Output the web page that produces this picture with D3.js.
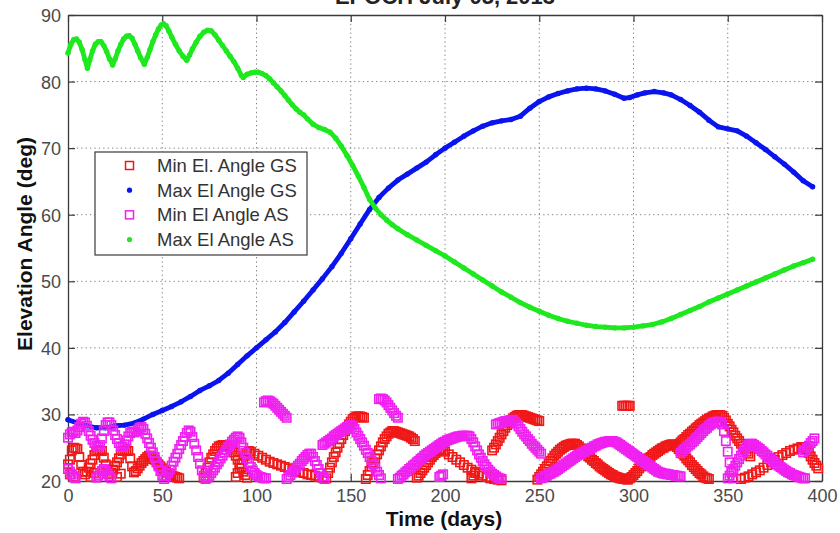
<!DOCTYPE html>
<html>
<head>
<meta charset="utf-8">
<script src="https://cdn.jsdelivr.net/npm/d3@7"></script>
<style>
  body { margin: 0; background: #fff; }
  svg { display: block; }
</style>
</head>
<body>
<svg id="chart" width="840" height="533"></svg>
<script>
// ---- chart text ----
const titleText = "EPOCH July 05, 2013";
const xLabel = "Time (days)";
const yLabel = "Elevation Angle (deg)";
const xTicks = [0, 50, 100, 150, 200, 250, 300, 350, 400];
const yTicks = [20, 30, 40, 50, 60, 70, 80, 90];
const legendNames = ["Min El. Angle GS", "Max El Angle GS", "Min El Angle AS", "Max El Angle AS"];

// ---- series: [day, elevation deg] ----
const maxGS = [
  [0,29.2],[5,28.7],[10,28.3],[15,28.0],[20,28.0],[25,28.3],[30,28.4],[35,28.7],[40,29.3],[45,30.0],
  [50,30.6],[55,31.2],[60,31.9],[65,32.7],[70,33.6],[75,34.3],[80,35.1],[85,36.2],[90,37.5],[95,38.8],
  [100,40.0],[105,41.2],[110,42.4],[115,43.8],[120,45.4],[125,47.0],[130,48.7],[135,50.4],[140,52.2],
  [145,54.2],[150,56.4],[155,58.6],[160,60.8],[165,62.6],[170,64.0],[175,65.2],[180,66.1],[185,67.0],
  [190,67.9],[195,69.0],[200,70.0],[205,70.9],[210,71.8],[215,72.6],[220,73.3],[225,73.8],[230,74.1],
  [235,74.3],[240,74.8],[245,76.0],[250,77.0],[255,77.7],[260,78.2],[265,78.6],[270,78.9],[275,79.0],
  [280,78.9],[285,78.6],[290,78.1],[295,77.5],[298,77.6],[302,78.0],[306,78.3],[311,78.5],[316,78.3],
  [320,78.0],[325,77.3],[330,76.4],[335,75.4],[340,74.2],[345,73.2],[350,72.9],[355,72.6],[360,71.8],
  [365,70.8],[370,69.8],[375,68.7],[380,67.6],[385,66.4],[390,65.1],[395,64.2]
];

const maxAS = [
  [0,84.3],[1.5,85.6],[3,86.3],[4.5,86.4],[6,85.9],[7.5,84.8],[9,83.3],[10.3,82.0],[11.5,83.2],[13,84.6],
  [14.5,85.6],[16,86.0],[17.5,86.0],[19,85.4],[20.5,84.5],[22,83.4],[23.7,82.5],[25,83.4],[26.5,84.6],
  [28,85.6],[29.5,86.4],[31,86.8],[32.5,86.9],[34,86.5],[35.5,85.6],[37,84.6],[38.5,83.6],[40.5,82.6],
  [42,83.6],[43.5,84.8],[45,86.0],[46.5,87.0],[48,87.9],[49.5,88.5],[50.6,88.7],[52,88.4],[53.5,87.6],
  [55,86.7],[57,85.6],[59,84.6],[61,83.8],[63,83.2],[64.5,84.0],[66,84.9],[68,85.9],[70,86.8],[72,87.4],
  [74,87.7],[76,87.6],[78,87.0],[80,86.2],[82,85.4],[84,84.6],[86,83.8],[88,83.0],[90,82.0],[92,80.9],
  [93,80.6],[95,81.1],[97,81.3],[99,81.4],[101,81.4],[103,81.2],[105,80.9],[107,80.4],[109,79.8],
  [111,79.2],[113,78.6],[115,77.9],[117,77.2],[119,76.5],[121,75.9],[123,75.4],[125,75.0],[127,74.4],
  [130,73.6],[133,73.1],[136,72.8],[139,72.4],[142,71.5],[145,70.3],[148,68.9],[151,67.4],[154,65.8],
  [157,64.1],[160,62.3],[163,61.0],[166,60.0],[169,59.2],[172,58.5],[175,57.9],[180,57.0],[185,56.2],
  [190,55.4],[195,54.6],[200,53.8],[205,52.9],[210,52.0],[215,51.1],[220,50.2],[225,49.3],[230,48.4],
  [235,47.6],[240,46.8],[245,46.1],[250,45.5],[255,44.9],[260,44.4],[265,44.0],[270,43.7],[275,43.4],
  [280,43.2],[285,43.1],[290,43.0],[295,43.0],[300,43.1],[305,43.3],[310,43.5],[315,43.9],[320,44.4],
  [325,45.0],[330,45.6],[335,46.2],[340,46.9],[345,47.5],[350,48.1],[355,48.7],[360,49.3],[365,49.9],
  [370,50.5],[375,51.1],[380,51.7],[385,52.3],[390,52.8],[395,53.3]
];

const minGS = [
  [0,22.5],[1,23.2],[2,24.6],[3,25],[4,24.9],[5,24.8],[6,23.6],[7,22.4],[8,21.4],[9,21],[10,21.4],[11,22],
  [12,22.6],[13,23.2],[14,23.9],[15,24.5],[16,24.6],[17,24.6],[18,24.5],[19,23.5],[20,22.5],[21,21.6],
  [22,21],[23,21.2],[24,21.7],[25,22.3],[26,22.8],[27,23.4],[28,24],[29,24.5],[30,24.6],[31,24.6],
  [32,24.5],[33,23.4],[34,22.2],[35,21.3],
  [1,21],[3,20.7],[12,20.6],[14,21.2],[26,20.6],[28,21.1],
  [36,21.5],[37,21.9],[38,22.3],[39,22.7],[40,23],[41,23.3],[42,23.6],[43,23.8],[44,23.8],[45,23.6],
  [46,23.2],[47,22.8],[48,22.5],[49,22.2],[50,21.9],[51,21.6],[52,21.4],[53,21.2],[54,21],[55,20.8],
  [56,20.7],[57,20.6],[58,20.5],[59,20.4],
  [72,20.5],[73,21.2],[74,22],[75,22.8],[76,23.5],[77,24],[78,24.5],[79,24.9],[80,25.2],[81,25.3],
  [82,25.4],[83,25.4],[84,25.3],[85,25.2],[86,25],[87,24.7],[88,24.3],[89,23.8],[90,23.2],[91,22.6],
  [92,22],[93,21.4],[94,20.9],[95,20.5],
  [89,20.6],[90,21.2],[91,21.9],[92,22.6],[93,23.2],[94,23.8],[95,24.2],[96,24.5],[97,24.4],[99,24.1],
  [101,23.8],[103,23.5],[105,23.2],[107,22.9],[109,22.7],[111,22.5],[113,22.3],[115,22.1],[117,21.9],
  [119,21.7],[121,21.5],[123,21.3],[125,21.2],[127,21],[129,20.9],[131,20.8],[133,20.6],[135,20.5],
  [137,20.4],
  [138,21.2],[139,22],[140,22.8],[141,23.6],[142,24.3],[143,25],[144,25.7],[145,26.3],[146,26.9],
  [147,27.5],[148,28],[149,28.5],[150,28.9],[151,29.3],[152,29.5],[153,29.7],[154,29.7],[155,29.7],
  [156,29.6],[157,29.5],
  [158,20.3],[159,20.9],[160,21.5],[161,22.2],[162,22.8],[163,23.4],[164,24],[165,24.6],[166,25.2],
  [167,25.8],[168,26.3],[169,26.7],[170,27.1],[171,27.3],[172,27.5],[173,27.5],[174,27.4],[175,27.3],
  [176,27.2],[177,27.1],[178,27],[179,26.9],[180,26.8],[181,26.7],[182,26.5],[183,26.3],[184,26],
  [185,20.5],[186,20.8],[187,21.2],[188,21.6],[189,22],[190,22.4],[191,22.8],[192,23.2],[193,23.6],
  [194,23.9],[195,24.2],[196,24.5],[197,24.7],[198,24.8],[199,24.6],[200,24.4],[202,24],[204,23.6],
  [206,23.2],[208,22.8],[210,22.4],[212,22],[214,21.7],[216,21.4],[218,21.1],[220,20.8],[222,20.6],
  [224,20.4],[226,20.3],[228,20.2],[230,20.1],
  [214,20.4],[215,20.8],[216,21.2],
  [225,24.6],[226,25],[227,25.5],[228,26],[229,26.5],[230,27],[231,27.5],[232,28],[233,28.4],[234,28.8],
  [235,29.1],[236,29.4],[237,29.6],[238,29.8],[239,29.9],[240,29.9],[241,29.9],[242,29.8],[243,29.7],
  [244,29.6],[245,29.5],[246,29.4],[247,29.3],[248,29.2],[249,29.1],[250,29],
  [249,20.2],[250,20.6],[251,21],[252,21.4],[253,21.8],[254,22.2],[255,22.6],[256,23],[257,23.4],
  [258,23.8],[259,24.1],[260,24.4],[261,24.7],[262,24.9],[263,25.1],[264,25.3],[265,25.4],[266,25.5],
  [267,25.6],[268,25.6],[269,25.6],[270,25.4],[271,25.2],[272,24.9],[273,24.6],[274,24.3],[275,24],
  [276,23.7],[277,23.5],[278,23.2],[279,23],[280,22.7],[281,22.5],[282,22.2],[283,22],[284,21.8],
  [285,21.6],[286,21.4],[287,21.2],[288,21],[289,20.9],[290,20.7],[291,20.6],[292,20.5],[293,20.4],
  [294,20.35],[295,20.3],[296,20.25],[297,20.2],
  [294,31.3],[295,31.3],[296,31.3],[297,31.3],[298,31.3],
  [298,20.4],[299,20.6],[300,20.9],[301,21.2],[302,21.5],[303,21.9],[304,22.2],[305,22.5],[306,22.8],
  [307,23.1],[308,23.4],[309,23.6],[310,23.9],[311,24.1],[312,24.3],[313,24.5],[314,24.7],[315,24.9],
  [316,25],[317,25.2],[318,25.3],[319,25.4],[320,25.5],[321,25.5],[322,25.4],[323,25.1],[324,24.8],
  [325,24.5],[326,24.1],[327,23.8],[328,23.4],[329,23.1],[330,22.8],[331,22.4],[332,22.1],[333,21.8],
  [334,21.5],[335,21.2],[336,21],[337,20.7],[338,20.5],[339,20.4],[340,20.3],
  [324,25.5],[325,25.8],[326,26.1],[327,26.3],[328,26.6],[329,26.9],[330,27.1],[331,27.4],[332,27.6],
  [333,27.9],[334,28.1],[335,28.4],[336,28.6],[337,28.8],[338,29],[339,29.2],[340,29.4],[341,29.5],
  [342,29.7],[343,29.8],[344,29.9],[345,29.9],[346,29.9],[347,29.8],[348,29.5],[349,29.1],[350,28.6],
  [351,28.2],[352,27.7],[353,27.3],[354,26.8],[355,26.4],[356,26],[357,25.6],[358,25.2],[359,24.8],
  [360,24.4],[361,24.1],[362,23.7],
  [357,20.3],[359,20.5],[361,20.7],[363,21],[365,21.3],[367,21.6],[369,22],[371,22.4],[373,22.8],
  [375,23.2],[377,23.6],[379,23.9],[381,24.2],[383,24.5],[385,24.7],[387,24.9],[389,25.1],[390,25.1],
  [391,25],[392,24.7],[393,24.2],[394,23.7],[395,23.2],[396,22.7],[397,22.3],[398,21.9]
];

const minAS = [
  [0,26.5],[1,27],[2,27.3],[3,27.4],[4,27.2],[5,27.6],[6,28.1],[7,28.6],[8,28.9],[9,28.8],[10,28.3],
  [11,27.5],[12,26.8],[13,26.2],[14,25.7],[15,25.3],[16,25.1],[17,25.4],[18,26.4],[19,27.5],[20,28.4],
  [21,28.8],[22,28.8],[23,28.4],[24,27.6],[25,26.9],[26,26.3],[27,25.7],[28,25.2],[29,25.1],[30,25.5],
  [31,26.1],[32,26.7],[33,27.2],[34,27.4],[35,27.3],[36,27.4],[37,27.7],[38,28],[39,28.1],[40,27.8],
  [41,27.1],[42,26.4],[43,25.7],[44,25],[45,24.3],[46,23.6],[47,22.9],[48,22.2],[49,21.5],[50,20.8],
  [51,20.3],
  [0,21.8],[1,21.4],[2,21],[3,20.6],[4,20.4],[15,20.5],[16,20.8],[17,21.1],[18,21.5],[19,21.8],
  [20,21.5],[21,21.1],[22,20.7],[23,20.4],
  [52,20.7],[53,21.2],[54,21.7],[55,22.3],[56,22.9],[57,23.5],[58,24.1],[59,24.8],[60,25.4],[61,26],
  [62,26.6],[63,27.2],[64,27.6],[65,27.4],[66,26.6],[67,25.6],[68,24.6],[69,23.6],[70,22.6],[71,21.6],
  [72,20.8],[73,20.3],
  [74,20.5],[75,20.8],[76,21.2],[77,21.6],[78,22],[79,22.5],[80,22.9],[81,23.4],[82,23.8],[83,24.3],
  [84,24.7],[85,25.1],[86,25.5],[87,25.9],[88,26.2],[89,26.5],[90,26.7],[91,26.5],[92,25.8],[93,25],
  [94,24.2],[95,23.4],[96,22.7],[97,22.1],[98,21.6],[99,21.2],[100,20.9],[101,20.7],[102,20.6],
  [103,20.5],[104,20.4],[105,20.4],
  [104,31.8],[105,32],[106,32.1],[107,32],[108,31.8],[109,31.6],[110,31.3],[111,31],[112,30.7],
  [113,30.4],[114,30.1],[115,29.8],[116,29.5],
  [116,20.3],[117,20.6],[118,20.9],[119,21.3],[120,21.6],[121,22],[122,22.3],[123,22.6],[124,23],
  [125,23.3],[126,23.6],[127,23.9],[128,24.1],[129,24.1],[130,23.6],[131,23],[132,22.4],[133,21.8],
  [134,21.2],[135,20.7],[136,20.3],
  [135,25.4],[136,25.6],[137,25.8],[138,26],[139,26.2],[140,26.4],[141,26.7],[142,26.9],[143,27.1],
  [144,27.3],[145,27.5],[146,27.7],[147,27.9],[148,28.1],[149,28.2],[150,28.4],[151,28.3],[152,27.8],
  [153,27.3],[154,26.8],[155,26.3],[156,25.8],[157,25.3],[158,24.7],[159,24.2],[160,23.6],[161,23.1],
  [162,22.5],[163,22],[164,21.4],[165,20.9],[166,20.4],
  [165,32.3],[166,32.4],[167,32.3],[168,32.1],[169,31.8],[170,31.4],[171,31],[172,30.6],[173,30.2],
  [174,29.8],[175,29.5],
  [175,20.3],[176,20.5],[177,20.8],[178,21],[179,21.3],[180,21.5],[181,21.8],[182,22],[183,22.3],
  [184,22.5],[185,22.8],[186,23],[187,23.3],[188,23.5],[189,23.8],[190,24],[191,24.2],[192,24.4],
  [193,24.6],[194,24.8],[195,25],[196,25.2],[197,25.4],[198,25.6],[199,25.8],[200,25.9],[201,26.1],
  [202,26.2],[203,26.3],[204,26.4],[205,26.5],[206,26.6],[207,26.7],[208,26.7],[209,26.8],[210,26.8],
  [211,26.8],[212,26.8],[213,26.7],[214,26.3],[215,25.8],[216,25.2],[217,24.6],[218,24],[219,23.5],
  [220,23],[221,22.5],[222,22.1],[223,21.7],[224,21.4],[225,21.1],[226,20.9],[227,20.7],[228,20.5],
  [229,20.4],[230,20.3],
  [197,20.6],[198,20.8],[199,21],
  [227,28.5],[228,28.6],[229,28.7],[230,28.8],[231,28.9],[232,29],[233,29],[234,29.1],[235,29.1],
  [236,29.2],[237,28.9],[238,28.6],[239,28.2],[240,27.8],[241,27.4],[242,27],[243,26.7],[244,26.3],
  [245,26],[246,25.6],[247,25.3],[248,25],[249,24.7],[250,24.4],[251,24.1],
  [251,20.4],[252,20.5],[253,20.7],[254,20.8],[255,21],[256,21.1],[257,21.3],[258,21.4],[259,21.6],
  [260,21.8],[261,22],[262,22.2],[263,22.4],[264,22.6],[265,22.8],[266,23],[267,23.2],[268,23.4],
  [269,23.6],[270,23.8],[271,24],[272,24.1],[273,24.3],[274,24.4],[275,24.6],[276,24.7],[277,24.9],
  [278,25],[279,25.2],[280,25.3],[281,25.5],[282,25.6],[283,25.7],[284,25.8],[285,25.9],[286,25.9],
  [287,26],[288,26],[289,26],[290,25.9],[291,25.8],[292,25.6],[293,25.4],[294,25.2],[295,25],
  [296,24.8],[297,24.6],[298,24.4],[299,24.2],[300,24],[301,23.8],[302,23.6],[303,23.4],[304,23.2],
  [305,23],[306,22.8],[307,22.6],[308,22.4],[309,22.2],[310,22],[311,21.8],[312,21.6],[313,21.4],
  [314,21.3],[315,21.2],[316,21.1],[317,21.1],[318,21],[319,21],[320,20.9],[321,20.9],[322,20.8],
  [323,20.8],[324,20.7],[325,20.7],
  [325,24.2],[326,24.5],[327,24.8],[328,25],[329,25.3],[330,25.5],[331,25.8],[332,26],[333,26.3],
  [334,26.6],[335,26.9],[336,27.2],[337,27.5],[338,27.8],[339,28],[340,28.3],[341,28.5],[342,28.7],
  [343,28.8],[344,28.9],[345,28.9],[346,28.9],[347,28.5],[348,27.5],[349,26],[350,24.4],[351,22.8],
  [352,21.4],[353,20.4],
  [350,20.4],[351,20.8],[352,21.3],[353,21.8],[354,22.3],[355,22.8],[356,23.3],[357,23.8],[358,24.3],
  [359,24.7],[360,25.1],[361,25.4],[362,25.6],[363,25.6],[364,25.4],[365,25.2],[366,25],[367,24.8],
  [368,24.5],[369,24.3],[370,24],[371,23.8],[372,23.5],[373,23.3],[374,23],[375,22.8],[376,22.5],
  [377,22.3],[378,22.1],[379,21.9],[380,21.7],[381,21.5],[382,21.3],[383,21.2],[384,21],[385,20.9],
  [386,20.8],[387,20.7],[388,20.6],[389,20.5],[390,20.4],[391,20.4],
  [390,24.3],[391,24.6],[392,25],[393,25.3],[394,25.7],[395,26],[396,26.4]
];

// ---- layout ----
const plot = { left: 68, right: 822, top: 15, bottom: 481 };
const colors = { minGS: "#f01818", maxGS: "#0a14ee", minAS: "#f020f0", maxAS: "#1ee81e" };
const font = "'Liberation Sans', Arial, Helvetica, sans-serif";

const svg = d3.select("#chart");
const x = d3.scaleLinear().domain([0, 400]).range([plot.left, plot.right]);
const y = d3.scaleLinear().domain([20, 90]).range([plot.bottom, plot.top]);

// dotted grid
const grid = svg.append("g").attr("stroke", "#808080").attr("stroke-width", 1)
  .attr("stroke-dasharray", "1.3,3.1");
grid.selectAll("line.gx").data(xTicks.slice(1, -1)).join("line")
  .attr("x1", d => x(d)).attr("x2", d => x(d))
  .attr("y1", plot.top).attr("y2", plot.bottom);
grid.selectAll("line.gy").data(yTicks.slice(1, -1)).join("line")
  .attr("x1", plot.left).attr("x2", plot.right)
  .attr("y1", d => y(d)).attr("y2", d => y(d));

// axes with inward ticks on all four sides
const tickLen = 7;
const axisColor = "#3a3a3a";
const axB = svg.append("g").attr("transform", `translate(0,${plot.bottom})`)
  .call(d3.axisBottom(x).tickValues(xTicks).tickSizeInner(-tickLen).tickSizeOuter(0).tickPadding(8));
const axT = svg.append("g").attr("transform", `translate(0,${plot.top})`)
  .call(d3.axisTop(x).tickValues(xTicks).tickSizeInner(-tickLen).tickSizeOuter(0).tickFormat(""));
const axL = svg.append("g").attr("transform", `translate(${plot.left},0)`)
  .call(d3.axisLeft(y).tickValues(yTicks).tickSizeInner(-tickLen).tickSizeOuter(0).tickPadding(7));
const axR = svg.append("g").attr("transform", `translate(${plot.right},0)`)
  .call(d3.axisRight(y).tickValues(yTicks).tickSizeInner(-tickLen).tickSizeOuter(0).tickFormat(""));
[axB, axT, axL, axR].forEach(a => {
  a.select(".domain").attr("stroke", axisColor).attr("stroke-width", 1.3);
  a.selectAll(".tick line").attr("stroke", axisColor).attr("stroke-width", 1.2);
  a.selectAll(".tick text").attr("fill", "#4a4a4a").style("font-family", font).style("font-size", "18px");
});
axB.selectAll(".tick text").attr("dy", "0.71em");
axL.selectAll(".tick text").attr("dy", "0.36em");

// series drawing
const g = svg.append("g");
const sq = 8.4;
function squares(data, color) {
  g.append("g").selectAll("rect").data(data).join("rect")
    .attr("x", d => x(d[0]) - sq / 2).attr("y", d => y(d[1]) - sq / 2)
    .attr("width", sq).attr("height", sq)
    .attr("fill", "none").attr("stroke", color).attr("stroke-width", 1.6);
}
function dotted(data, color) {
  g.append("path").datum(data)
    .attr("d", d3.line().x(d => x(d[0])).y(d => y(d[1])))
    .attr("fill", "none").attr("stroke", color).attr("stroke-width", 4.8)
    .attr("stroke-linejoin", "round").attr("stroke-linecap", "round");
  g.append("g").selectAll("circle").data(data).join("circle")
    .attr("cx", d => x(d[0])).attr("cy", d => y(d[1])).attr("r", 2.7).attr("fill", color);
}
squares(minGS, colors.minGS);
dotted(maxGS, colors.maxGS);
squares(minAS, colors.minAS);
dotted(maxAS, colors.maxAS);

// legend
const leg = { x: 95, y: 152, w: 212, h: 103 };
const lg = svg.append("g");
lg.append("rect").attr("x", leg.x).attr("y", leg.y).attr("width", leg.w).attr("height", leg.h)
  .attr("fill", "#fff").attr("stroke", "#3a3a3a").attr("stroke-width", 1.2);
const rowY = d3.scaleLinear().domain([0, 3]).range([leg.y + 13.5, leg.y + 87.5]);
const legendColors = [colors.minGS, colors.maxGS, colors.minAS, colors.maxAS];
legendNames.forEach((name, i) => {
  const cy = rowY(i);
  if (i % 2 === 0) {
    lg.append("rect").attr("x", 129.5 - 4).attr("y", cy - 4).attr("width", 8).attr("height", 8)
      .attr("fill", "none").attr("stroke", legendColors[i]).attr("stroke-width", 1.5);
  } else {
    lg.append("circle").attr("cx", 129.5).attr("cy", cy).attr("r", 2.6).attr("fill", legendColors[i]);
  }
  lg.append("text").attr("x", 157).attr("y", cy).attr("dy", "0.36em")
    .attr("fill", "#333").style("font-family", font).style("font-size", "18.5px").text(name);
});

// titles
svg.append("text").attr("x", (plot.left + plot.right) / 2).attr("y", 4)
  .attr("text-anchor", "middle").attr("fill", "#222")
  .style("font-family", font).style("font-size", "22px").style("font-weight", "bold").text(titleText);
svg.append("text").attr("x", (plot.left + plot.right) / 2 - 1).attr("y", 526)
  .attr("text-anchor", "middle").attr("fill", "#111")
  .style("font-family", font).style("font-size", "21px").style("font-weight", "bold").text(xLabel);
svg.append("text").attr("transform", `translate(32,${(plot.top + plot.bottom) / 2 - 4}) rotate(-90)`)
  .attr("text-anchor", "middle").attr("fill", "#111")
  .style("font-family", font).style("font-size", "21px").style("font-weight", "bold").text(yLabel);
</script>
</body>
</html>
